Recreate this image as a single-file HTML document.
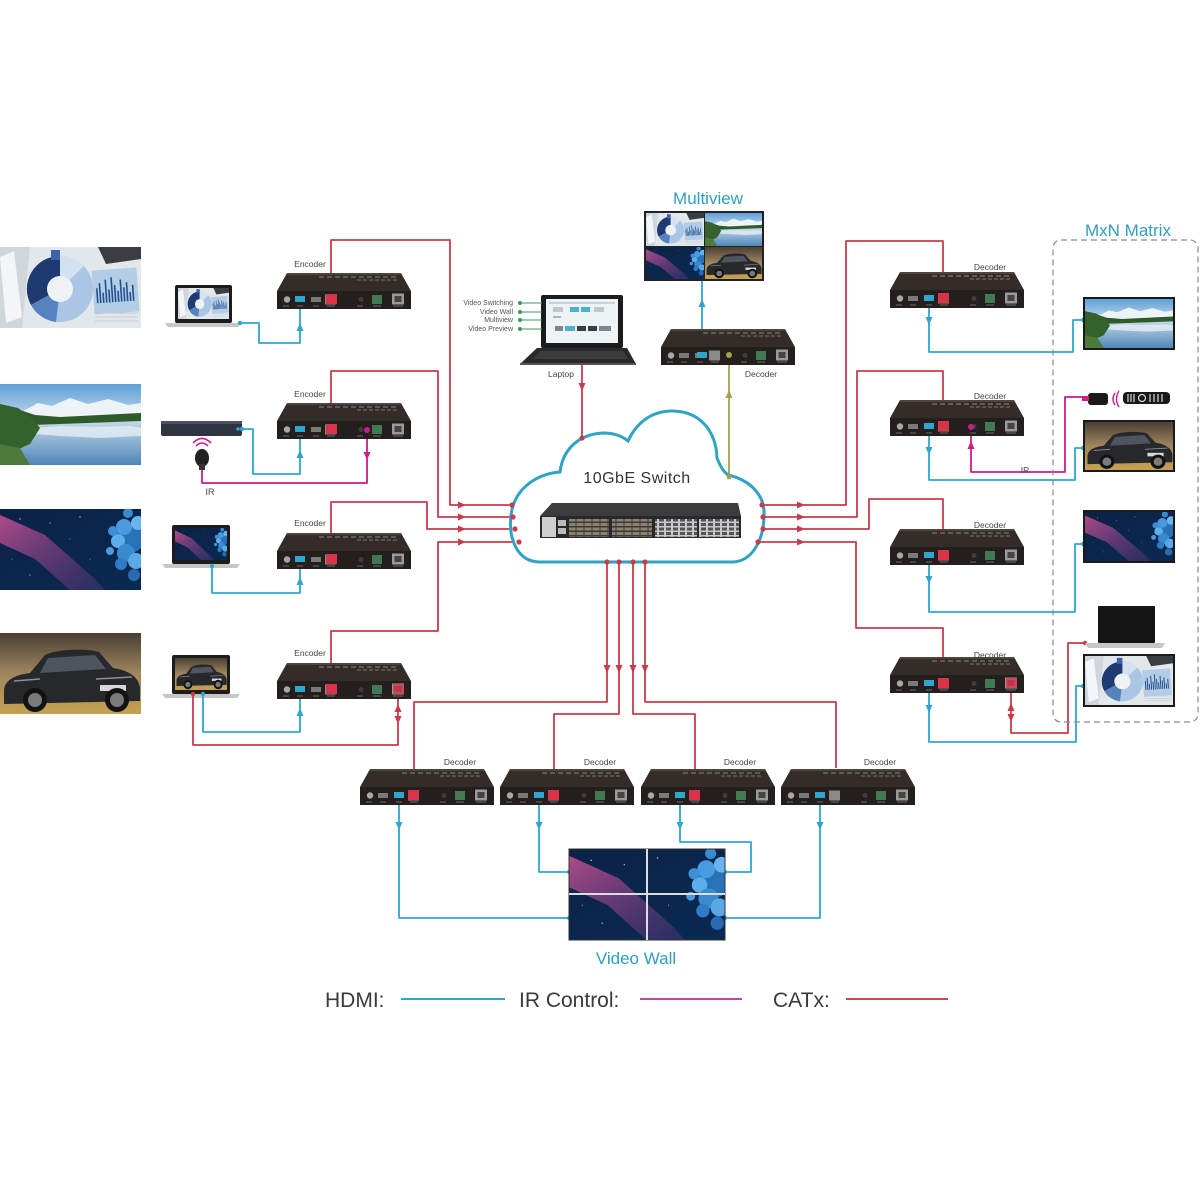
<!DOCTYPE html>
<html><head><meta charset="utf-8"><style>
html,body{margin:0;padding:0;background:#fff;}
svg{display:block;font-family:"Liberation Sans",Arial,sans-serif;}
</style></head><body>
<svg width="1200" height="1200" viewBox="0 0 1200 1200" xmlns="http://www.w3.org/2000/svg">
<defs>
<linearGradient id="gSky" x1="0" y1="0" x2="0" y2="1"><stop offset="0" stop-color="#5f9fd6"/><stop offset="1" stop-color="#cfe2f1"/></linearGradient>
<linearGradient id="gWater" x1="0" y1="0" x2="0" y2="1"><stop offset="0" stop-color="#c5dbea"/><stop offset="1" stop-color="#4f86b8"/></linearGradient>
<linearGradient id="gSpace" x1="0" y1="0" x2="1" y2="1"><stop offset="0" stop-color="#0c2146"/><stop offset="1" stop-color="#0a2a52"/></linearGradient>
<linearGradient id="gStreak" x1="0" y1="0" x2="1" y2="1"><stop offset="0" stop-color="#c0508e" stop-opacity=".9"/><stop offset="1" stop-color="#6a3c8a" stop-opacity=".3"/></linearGradient>
<linearGradient id="gCar" x1="0" y1="0" x2="0" y2="1"><stop offset="0" stop-color="#4a3f33"/><stop offset=".5" stop-color="#a08660"/><stop offset="1" stop-color="#c4a24e"/></linearGradient>
<pattern id="pSfp" width="8" height="9" patternUnits="userSpaceOnUse"><rect width="8" height="9" fill="#3a3a3a"/><rect x="0.5" y="1" width="7" height="3" fill="#8d826f"/><rect x="0.5" y="5.5" width="7" height="3" fill="#8d826f"/></pattern>
<pattern id="pRj" width="7" height="9" patternUnits="userSpaceOnUse"><rect width="7" height="9" fill="#c8c8c8"/><rect x="1" y="1" width="5" height="3" fill="#555"/><rect x="1" y="5.5" width="5" height="3" fill="#555"/></pattern>

<symbol id="iChart" viewBox="0 0 141 81" preserveAspectRatio="none">
<rect width="141" height="81" fill="#e2e7ec"/>
<polygon points="0,0 30,0 22,81 0,81" fill="#cfd6dc"/>
<polygon points="0,10 14,4 22,70 6,76" fill="#f3f5f7"/>
<polygon points="98,0 141,0 141,12 106,17" fill="#3a3d42"/>
<circle cx="60" cy="42" r="33" fill="#abc5e4"/>
<path d="M60,42 L60,9 A33,33 0 0,0 31,58 Z" fill="#1f3a70"/>
<path d="M60,42 L31,58 A33,33 0 0,0 56,75 Z" fill="#5682bd"/>
<path d="M60,42 L60,9 A33,33 0 0,1 84,19 Z" fill="#d3e1f0"/>
<circle cx="60" cy="42" r="13" fill="#eef2f6"/>
<rect x="51" y="3" width="9" height="10" fill="#3a64a6"/>
<g transform="rotate(-4 115 44)"><rect x="93" y="22" width="45" height="44" fill="#b4cde6"/>
<path d="M97,55 V40 M100,55 V35 M103,55 V45 M106,55 V32 M109,55 V42 M112,55 V30 M115,55 V38 M118,55 V44 M121,55 V33 M124,55 V41 M127,55 V36 M130,55 V46 M133,55 V39" stroke="#25508f" stroke-width="1.6"/></g>
<path d="M95,66 H138 M95,70 H138 M95,74 H138" stroke="#c5ccd2" stroke-width="1"/>
</symbol>

<symbol id="iLake" viewBox="0 0 141 81" preserveAspectRatio="none">
<rect width="141" height="40" fill="url(#gSky)"/>
<polygon points="18,30 38,19 52,22 70,14 88,20 108,15 128,21 141,19 141,36 18,36" fill="#eef3f7"/>
<rect y="36" width="141" height="45" fill="url(#gWater)"/>
<polygon points="35,44 60,42 95,43 130,42 141,44 141,52 100,54 60,52 35,50" fill="#e5eef5" opacity=".8"/>
<polygon points="0,22 20,26 35,31 60,33 100,31 141,29 141,37 60,40 0,42" fill="#2f5a2a"/>
<polygon points="0,20 18,24 32,34 40,44 30,60 12,68 0,81" fill="#34612c"/>
<polygon points="0,60 20,64 30,81 0,81" fill="#4d7a3a"/>
</symbol>

<symbol id="iSpace" viewBox="0 0 141 81" preserveAspectRatio="none">
<rect width="141" height="81" fill="url(#gSpace)"/>
<polygon points="0,6 45,26 95,70 105,81 70,81 35,50 0,34" fill="url(#gStreak)"/>
<g fill="#fff" opacity=".7"><circle cx="20" cy="10" r=".7"/><circle cx="50" cy="14" r=".6"/><circle cx="80" cy="8" r=".7"/><circle cx="70" cy="30" r=".5"/><circle cx="30" cy="66" r=".6"/><circle cx="90" cy="50" r=".5"/><circle cx="12" cy="50" r=".5"/></g>
<g><circle cx="130" cy="30" r="14" fill="#2a72b8"/><circle cx="124" cy="18" r="8" fill="#4a9ae0"/><circle cx="118" cy="32" r="7" fill="#5aaeea"/><circle cx="126" cy="44" r="9" fill="#3a8ad0"/><circle cx="138" cy="14" r="7" fill="#6ab4ee"/><circle cx="113" cy="22" r="5" fill="#3f8fd6"/><circle cx="121" cy="55" r="6" fill="#2e7cc4"/><circle cx="136" cy="52" r="8" fill="#5aa8e4"/><circle cx="110" cy="42" r="4" fill="#4a9ae0"/><circle cx="134" cy="66" r="6" fill="#2a6ab0"/><circle cx="128" cy="4" r="5" fill="#3a8ad0"/></g>
</symbol>

<symbol id="iCar" viewBox="0 0 141 81" preserveAspectRatio="none">
<rect width="141" height="81" fill="url(#gCar)"/>
<path d="M4,58 C4,48 14,42 30,40 L45,22 C56,16 86,15 99,19 L113,35 C128,37 139,44 140,55 L140,68 L4,71 Z" fill="#26282c"/>
<polygon points="48,25 95,22 106,36 40,40" fill="#4e555e"/>
<path d="M14,48 L40,46 M96,46 L132,44" stroke="#8a9098" stroke-width="1.5"/>
<rect x="100" y="52" width="26" height="6" fill="#d8d8d8"/>
<circle cx="35" cy="67" r="12" fill="#121212"/><circle cx="35" cy="67" r="7" fill="#7a7a7a"/>
<circle cx="117" cy="67" r="12" fill="#121212"/><circle cx="117" cy="67" r="7" fill="#7a7a7a"/>
</symbol>

<g id="dev">
<polygon points="10,-18 124,-18 134,0 0,0" fill="#332c29"/>
<rect x="10" y="-18" width="114" height="2" fill="#4d4440"/>
<line x1="42" y1="-14" x2="120" y2="-14" stroke="#8a8582" stroke-width="1" stroke-dasharray="5 3"/>
<line x1="80" y1="-11" x2="122" y2="-11" stroke="#7a7572" stroke-width="1" stroke-dasharray="4 2"/>
<rect x="0" y="0" width="134" height="18" fill="#241f1d"/>
<circle cx="10" cy="8.5" r="3.2" fill="#a8a8a8"/>
<rect x="18" y="6" width="10" height="5" fill="#7a7a7a"/>
<rect x="34" y="6" width="10" height="5" fill="#7a7a7a"/>
<rect x="48" y="3.5" width="11" height="10" fill="#8a8a8a"/>
<circle cx="84" cy="8.5" r="2.5" fill="#3e3e3e"/>
<rect x="95" y="4" width="10" height="9" fill="#3f7a52"/>
<rect x="115" y="2.5" width="12" height="11" fill="#9a9a9a"/><rect x="117.5" y="5" width="7" height="6" fill="#444"/>
<path d="M6,15 H12 M20,15 H26 M36,15 H42 M50,15 H58 M80,15 H86 M96,15 H104 M116,15 H126" stroke="#6a6a6a" stroke-width="1"/>
</g>
</defs>

<!-- left photos -->
<use href="#iChart" x="0" y="247" width="141" height="81"/>
<use href="#iLake" x="0" y="384" width="141" height="81"/>
<use href="#iSpace" x="0" y="509" width="141" height="81"/>
<use href="#iCar" x="0" y="633" width="141" height="81"/>

<!-- left laptops -->
<rect x="175" y="285" width="57" height="38" rx="2" fill="#1c1c1c"/>
<use href="#iChart" x="178" y="288" width="51" height="31"/>
<polygon points="165,323 241,323 238,327 168,327" fill="#c6c6c6"/>
<rect x="172" y="525" width="58" height="39" rx="2" fill="#1c1c1c"/>
<use href="#iSpace" x="175" y="528" width="52" height="32"/>
<polygon points="162,564 240,564 237,568 165,568" fill="#c6c6c6"/>
<rect x="172" y="655" width="58" height="39" rx="2" fill="#1c1c1c"/>
<use href="#iCar" x="175" y="658" width="52" height="32"/>
<polygon points="162,694 240,694 237,698 165,698" fill="#c6c6c6"/>
<!-- bluray + IR receiver -->
<rect x="161" y="421" width="81" height="15" rx="2" fill="#2e3440"/>
<rect x="161" y="421" width="81" height="3" fill="#4a5262"/>
<circle cx="238" cy="429" r="1.8" fill="#2ea6d0"/>
<path d="M196,446 Q202,440 208,446 M193,443 Q202,434 211,443" stroke="#c81f8c" stroke-width="1.6" fill="none"/>
<ellipse cx="202" cy="458" rx="7" ry="9" fill="#222"/>
<rect x="199" y="464" width="6" height="6" fill="#333"/>
<text x="210" y="495" font-size="9" fill="#444" text-anchor="middle">IR</text>

<!-- red CATx lines -->
<g stroke="#c63c4c" stroke-width="1.8" fill="none" stroke-linejoin="round">
<path d="M331,298 V240 H450 V505 H512"/>
<path d="M331,428 V371 H438 V517 H513"/>
<path d="M331,558 V502 H427 V529 H515"/>
<path d="M331,688 V631 H438 V542 H519"/>
<path d="M762,505 H846 V241 H943 V297"/>
<path d="M763,517 H857 V371 H943 V425"/>
<path d="M763,529 H869 V499 H943 V554"/>
<path d="M758,542 H856 V628 H943 V682"/>
<path d="M607,562 V702 H414 V794"/>
<path d="M619,562 V714 H554 V794"/>
<path d="M633,562 V714 H695 V794"/>
<path d="M645,562 V702 H836 V768"/>
<path d="M582,365 V438"/>
<path d="M398,690 V745 H193 V694"/>
<path d="M1011,682 V733 H1068 V643 H1085"/>
</g>
<!-- blue HDMI lines -->
<g stroke="#2ea6d0" stroke-width="1.8" fill="none" stroke-linejoin="round">
<path d="M240,323 H259 V343 H300 V298"/>
<path d="M242,429 H253 V474 H300 V428"/>
<path d="M212,566 V593 H300 V558"/>
<path d="M203,694 V732 H300 V688"/>
<path d="M929,297 V352 H1073 V320 H1083"/>
<path d="M929,425 V480 H1075 V448 H1083"/>
<path d="M929,554 V612 H1075 V544 H1083"/>
<path d="M929,682 V742 H1076 V686 H1083"/>
<path d="M399,794 V918 H569"/>
<path d="M539,794 V872 H569"/>
<path d="M680,794 V842 H751 V872 H725"/>
<path d="M820,794 V918 H725"/>
<path d="M702,352 V280"/>
</g>
<!-- IR lines -->
<g stroke="#c81f8c" stroke-width="1.8" fill="none" stroke-linejoin="round">
<path d="M202,470 V483 H367 V428"/>
<path d="M971,428 V472 H1065 V397 H1088"/>
</g>
<path d="M729,355 V477" stroke="#a5a34a" stroke-width="1.8"/>

<!-- arrows -->
<g fill="#c63c4c">
<polygon points="458,501.5 458,508.5 466,505"/><polygon points="458,513.5 458,520.5 466,517"/><polygon points="458,525.5 458,532.5 466,529"/><polygon points="458,538.5 458,545.5 466,542"/>
<polygon points="797,501.5 797,508.5 805,505"/><polygon points="797,513.5 797,520.5 805,517"/><polygon points="797,525.5 797,532.5 805,529"/><polygon points="797,538.5 797,545.5 805,542"/>
<polygon points="603.5,665 610.5,665 607,673"/><polygon points="615.5,665 622.5,665 619,673"/><polygon points="629.5,665 636.5,665 633,673"/><polygon points="641.5,665 648.5,665 645,673"/>
<polygon points="578.5,383 585.5,383 582,391"/>
<polygon points="394.5,712 401.5,712 398,704"/><polygon points="394.5,716 401.5,716 398,724"/>
<polygon points="1007.5,711 1014.5,711 1011,703"/><polygon points="1007.5,714 1014.5,714 1011,722"/>
</g>
<g fill="#2ea6d0">
<polygon points="296.5,331 303.5,331 300,323"/><polygon points="296.5,458 303.5,458 300,450"/><polygon points="296.5,585 303.5,585 300,577"/><polygon points="296.5,716 303.5,716 300,708"/>
<polygon points="925.5,317 932.5,317 929,325"/><polygon points="925.5,447 932.5,447 929,455"/><polygon points="925.5,576 932.5,576 929,584"/><polygon points="925.5,705 932.5,705 929,713"/>
<polygon points="395.5,822 402.5,822 399,830"/><polygon points="535.5,822 542.5,822 539,830"/><polygon points="676.5,822 683.5,822 680,830"/><polygon points="816.5,822 823.5,822 820,830"/>
<polygon points="698.5,307 705.5,307 702,299"/>
</g>
<g fill="#c81f8c"><polygon points="363.5,452 370.5,452 367,460"/><polygon points="967.5,449 974.5,449 971,441"/></g>
<polygon points="725.5,398 732.5,398 729,390" fill="#a5a34a"/>

<!-- cloud -->
<path d="M540,562 C518,562 508,540 511,515 C514,490 535,474 560,472 C563,448 580,434 603,433 C614,433 622,436 628,441 C638,420 654,411 672,411 C699,411 716,430 717,458 C720,466 724,472 728,475 C750,480 765,495 764,515 C764,540 752,562 732,562 Z" fill="#fff" stroke="#2ea3c4" stroke-width="3"/>
<text x="637" y="483" font-size="16" fill="#333" text-anchor="middle" letter-spacing="0.5">10GbE Switch</text>
<!-- switch -->
<polygon points="552,503 738,503 741,516 540,516" fill="#3c3c3e"/>
<rect x="540" y="516" width="201" height="22" fill="#29292b"/>
<rect x="542" y="517" width="14" height="20" fill="#cfcfcf"/>
<rect x="558" y="520" width="8" height="6" fill="#bbb"/><rect x="558" y="528" width="8" height="6" fill="#bbb"/>
<rect x="569" y="519" width="40" height="18" fill="url(#pSfp)"/>
<rect x="612" y="519" width="40" height="18" fill="url(#pSfp)"/>
<rect x="655" y="519" width="42" height="18" fill="url(#pRj)"/>
<rect x="699" y="519" width="40" height="18" fill="url(#pRj)"/>
<!-- cloud dots -->
<g fill="#c63c4c">
<circle cx="512" cy="505" r="2.6"/><circle cx="513" cy="517" r="2.6"/><circle cx="515" cy="529" r="2.6"/><circle cx="519" cy="542" r="2.6"/>
<circle cx="762" cy="505" r="2.6"/><circle cx="763" cy="517" r="2.6"/><circle cx="763" cy="529" r="2.6"/><circle cx="758" cy="542" r="2.6"/>
<circle cx="607" cy="562" r="2.6"/><circle cx="619" cy="562" r="2.6"/><circle cx="633" cy="562" r="2.6"/><circle cx="645" cy="562" r="2.6"/>
<circle cx="582" cy="438" r="2.6"/>
<circle cx="193" cy="694" r="2.2"/><circle cx="1085" cy="643" r="2.2"/>
</g>
<circle cx="729" cy="477" r="2.4" fill="#a5a34a"/>
<g fill="#2ea6d0"><circle cx="240" cy="323" r="2.2"/><circle cx="242" cy="429" r="2.2"/><circle cx="212" cy="566" r="2.2"/><circle cx="203" cy="694" r="2.2"/>
<circle cx="1083" cy="320" r="2.2"/><circle cx="1083" cy="448" r="2.2"/><circle cx="1083" cy="544" r="2.2"/><circle cx="1083" cy="686" r="2.2"/>
<circle cx="569" cy="918" r="2.2"/><circle cx="569" cy="872" r="2.2"/><circle cx="725" cy="872" r="2.2"/><circle cx="725" cy="918" r="2.2"/></g>

<!-- encoders -->
<g font-size="8.5" fill="#444">
<text x="310" y="267" text-anchor="middle">Encoder</text>
<text x="310" y="397" text-anchor="middle">Encoder</text>
<text x="310" y="526" text-anchor="middle">Encoder</text>
<text x="310" y="656" text-anchor="middle">Encoder</text>
<text x="990" y="270" text-anchor="middle">Decoder</text>
<text x="990" y="399" text-anchor="middle">Decoder</text>
<text x="990" y="528" text-anchor="middle">Decoder</text>
<text x="990" y="658" text-anchor="middle">Decoder</text>
<text x="460" y="765" text-anchor="middle">Decoder</text>
<text x="600" y="765" text-anchor="middle">Decoder</text>
<text x="740" y="765" text-anchor="middle">Decoder</text>
<text x="880" y="765" text-anchor="middle">Decoder</text>
<text x="761" y="377" text-anchor="middle">Decoder</text>
<text x="561" y="377" text-anchor="middle">Laptop</text>
<text x="1025" y="473" text-anchor="middle">IR</text>
</g>
<use href="#dev" x="277" y="291"/>
<use href="#dev" x="277" y="421"/>
<use href="#dev" x="277" y="551"/>
<use href="#dev" x="277" y="681"/>
<use href="#dev" x="890" y="290"/>
<use href="#dev" x="890" y="418"/>
<use href="#dev" x="890" y="547"/>
<use href="#dev" x="890" y="675"/>
<use href="#dev" x="360" y="787"/>
<use href="#dev" x="500" y="787"/>
<use href="#dev" x="641" y="787"/>
<use href="#dev" x="781" y="787"/>
<use href="#dev" x="661" y="347"/>
<!-- colored ports -->
<g fill="#2ea6d0">
<rect x="295" y="296" width="10" height="6"/><rect x="295" y="426" width="10" height="6"/><rect x="295" y="556" width="10" height="6"/><rect x="295" y="686" width="10" height="6"/>
<rect x="924" y="295" width="10" height="6"/><rect x="924" y="423" width="10" height="6"/><rect x="924" y="552" width="10" height="6"/><rect x="924" y="680" width="10" height="6"/>
<rect x="394" y="792" width="10" height="6"/><rect x="534" y="792" width="10" height="6"/><rect x="675" y="792" width="10" height="6"/><rect x="815" y="792" width="10" height="6"/>
<rect x="697" y="352" width="10" height="6"/>
</g>
<g fill="#d8344a">
<rect x="326" y="294" width="11" height="10"/><rect x="326" y="424" width="11" height="10"/><rect x="326" y="554" width="11" height="10"/><rect x="326" y="684" width="11" height="10"/>
<rect x="938" y="293" width="11" height="10"/><rect x="938" y="421" width="11" height="10"/><rect x="938" y="550" width="11" height="10"/><rect x="938" y="678" width="11" height="10"/>
<rect x="408" y="790" width="11" height="10"/><rect x="548" y="790" width="11" height="10"/><rect x="689" y="790" width="11" height="10"/>
<rect x="393" y="684" width="11" height="10" opacity=".8"/><rect x="1006" y="678" width="11" height="10" opacity=".8"/>
</g>
<circle cx="367" cy="430" r="3" fill="#c81f8c"/><circle cx="971" cy="427" r="3" fill="#c81f8c"/>
<circle cx="729" cy="355" r="3" fill="#a5a34a"/>

<!-- top laptop -->
<rect x="541" y="295" width="82" height="53" rx="2" fill="#1b1b1b"/>
<rect x="546" y="299" width="72" height="44" fill="#eef3f6"/>
<rect x="549" y="302" width="66" height="2" fill="#c9d3db"/>
<rect x="553" y="307" width="10" height="5" fill="#c0c8cf"/><rect x="570" y="307" width="9" height="5" fill="#4fb0cc"/><rect x="581" y="307" width="9" height="5" fill="#4fb0cc"/><rect x="594" y="307" width="10" height="5" fill="#c0c8cf"/>
<rect x="553" y="316" width="8" height="2" fill="#aab5be"/>
<rect x="555" y="326" width="8" height="5" fill="#7c8690"/><rect x="565" y="326" width="10" height="5" fill="#4fb0cc"/><rect x="577" y="326" width="9" height="5" fill="#3a3f44"/><rect x="588" y="326" width="9" height="5" fill="#3a3f44"/><rect x="599" y="326" width="12" height="5" fill="#7c8690"/>
<polygon points="537,348 627,348 636,364 520,364" fill="#2a2a2a"/>
<polygon points="541,351 623,351 628,359 533,359" fill="#3c3c3c"/>
<rect x="520" y="363" width="116" height="2" fill="#555"/>
<g font-size="7" fill="#555" text-anchor="end">
<text x="513" y="305">Video Switching</text>
<text x="513" y="314">Video Wall</text>
<text x="513" y="322">Multiview</text>
<text x="513" y="331">Video Preview</text>
</g>
<g stroke="#3a9a5a" stroke-width="1" fill="#3a9a5a">
<line x1="518" y1="303" x2="542" y2="303"/><line x1="518" y1="312" x2="542" y2="312"/><line x1="518" y1="320" x2="542" y2="320"/><line x1="518" y1="329" x2="542" y2="329"/>
<circle cx="520" cy="303" r="1.5"/><circle cx="520" cy="312" r="1.5"/><circle cx="520" cy="320" r="1.5"/><circle cx="520" cy="329" r="1.5"/>
</g>

<!-- multiview monitor -->
<text x="708" y="204" font-size="17" fill="#2e9fbf" text-anchor="middle">Multiview</text>
<rect x="644" y="211" width="120" height="70" fill="#222"/>
<use href="#iChart" x="646" y="213" width="58" height="33"/>
<use href="#iLake" x="705" y="213" width="57" height="33"/>
<use href="#iSpace" x="646" y="247" width="58" height="32"/>
<use href="#iCar" x="705" y="247" width="57" height="32"/>

<!-- MxN matrix -->
<text x="1128" y="236" font-size="17" fill="#2e9fbf" text-anchor="middle">MxN Matrix</text>
<rect x="1053" y="240" width="145" height="482" rx="8" fill="none" stroke="#8a8a8a" stroke-width="1.2" stroke-dasharray="6 4"/>
<rect x="1083" y="297" width="92" height="53" fill="#1a1a1a"/>
<use href="#iLake" x="1085" y="299" width="88" height="49"/>
<rect x="1083" y="420" width="92" height="52" fill="#1a1a1a"/>
<use href="#iCar" x="1085" y="422" width="88" height="48"/>
<rect x="1083" y="510" width="92" height="53" fill="#1a1a1a"/>
<use href="#iSpace" x="1085" y="512" width="88" height="49"/>
<rect x="1083" y="654" width="92" height="53" fill="#1a1a1a"/>
<use href="#iChart" x="1085" y="656" width="88" height="49"/>
<rect x="1098" y="606" width="57" height="37" rx="1" fill="#141414"/>
<polygon points="1085,643 1165,643 1162,648 1088,648" fill="#c6c6c6"/>
<!-- IR emitter + remote -->
<rect x="1088" y="393" width="20" height="12" rx="3" fill="#1a1a1a"/>
<rect x="1082" y="396" width="7" height="5" fill="#c81f8c"/>
<path d="M1115,393 Q1111,399 1115,405 M1119,391 Q1114,399 1119,407" stroke="#c81f8c" stroke-width="1.4" fill="none"/>
<rect x="1123" y="392" width="47" height="12" rx="4" fill="#1a1a1a"/>
<path d="M1128,394 V402 M1131,394 V402 M1134,394 V402 M1150,394 V402 M1154,394 V402 M1158,394 V402 M1162,394 V402" stroke="#ddd" stroke-width="1.2"/>
<circle cx="1142" cy="398" r="3.5" fill="none" stroke="#ddd" stroke-width="1.2"/>

<!-- video wall -->
<use href="#iSpace" x="569" y="849" width="156" height="91"/>
<rect x="569" y="849" width="156" height="91" fill="none" stroke="#333" stroke-width="1"/>
<line x1="647" y1="849" x2="647" y2="940" stroke="#ddd" stroke-width="2"/>
<line x1="569" y1="894" x2="725" y2="894" stroke="#ddd" stroke-width="2"/>
<text x="636" y="964" font-size="17" fill="#2e9fbf" text-anchor="middle">Video Wall</text>

<!-- legend -->
<g font-size="21" fill="#3a3a3a">
<text x="325" y="1007">HDMI:</text>
<text x="519" y="1007">IR Control:</text>
<text x="773" y="1007">CATx:</text>
</g>
<line x1="401" y1="999" x2="505" y2="999" stroke="#2ea6c4" stroke-width="2"/>
<line x1="640" y1="999" x2="742" y2="999" stroke="#b84aa0" stroke-width="2"/>
<line x1="846" y1="999" x2="948" y2="999" stroke="#c84a4a" stroke-width="2"/>
</svg>
</body></html>
